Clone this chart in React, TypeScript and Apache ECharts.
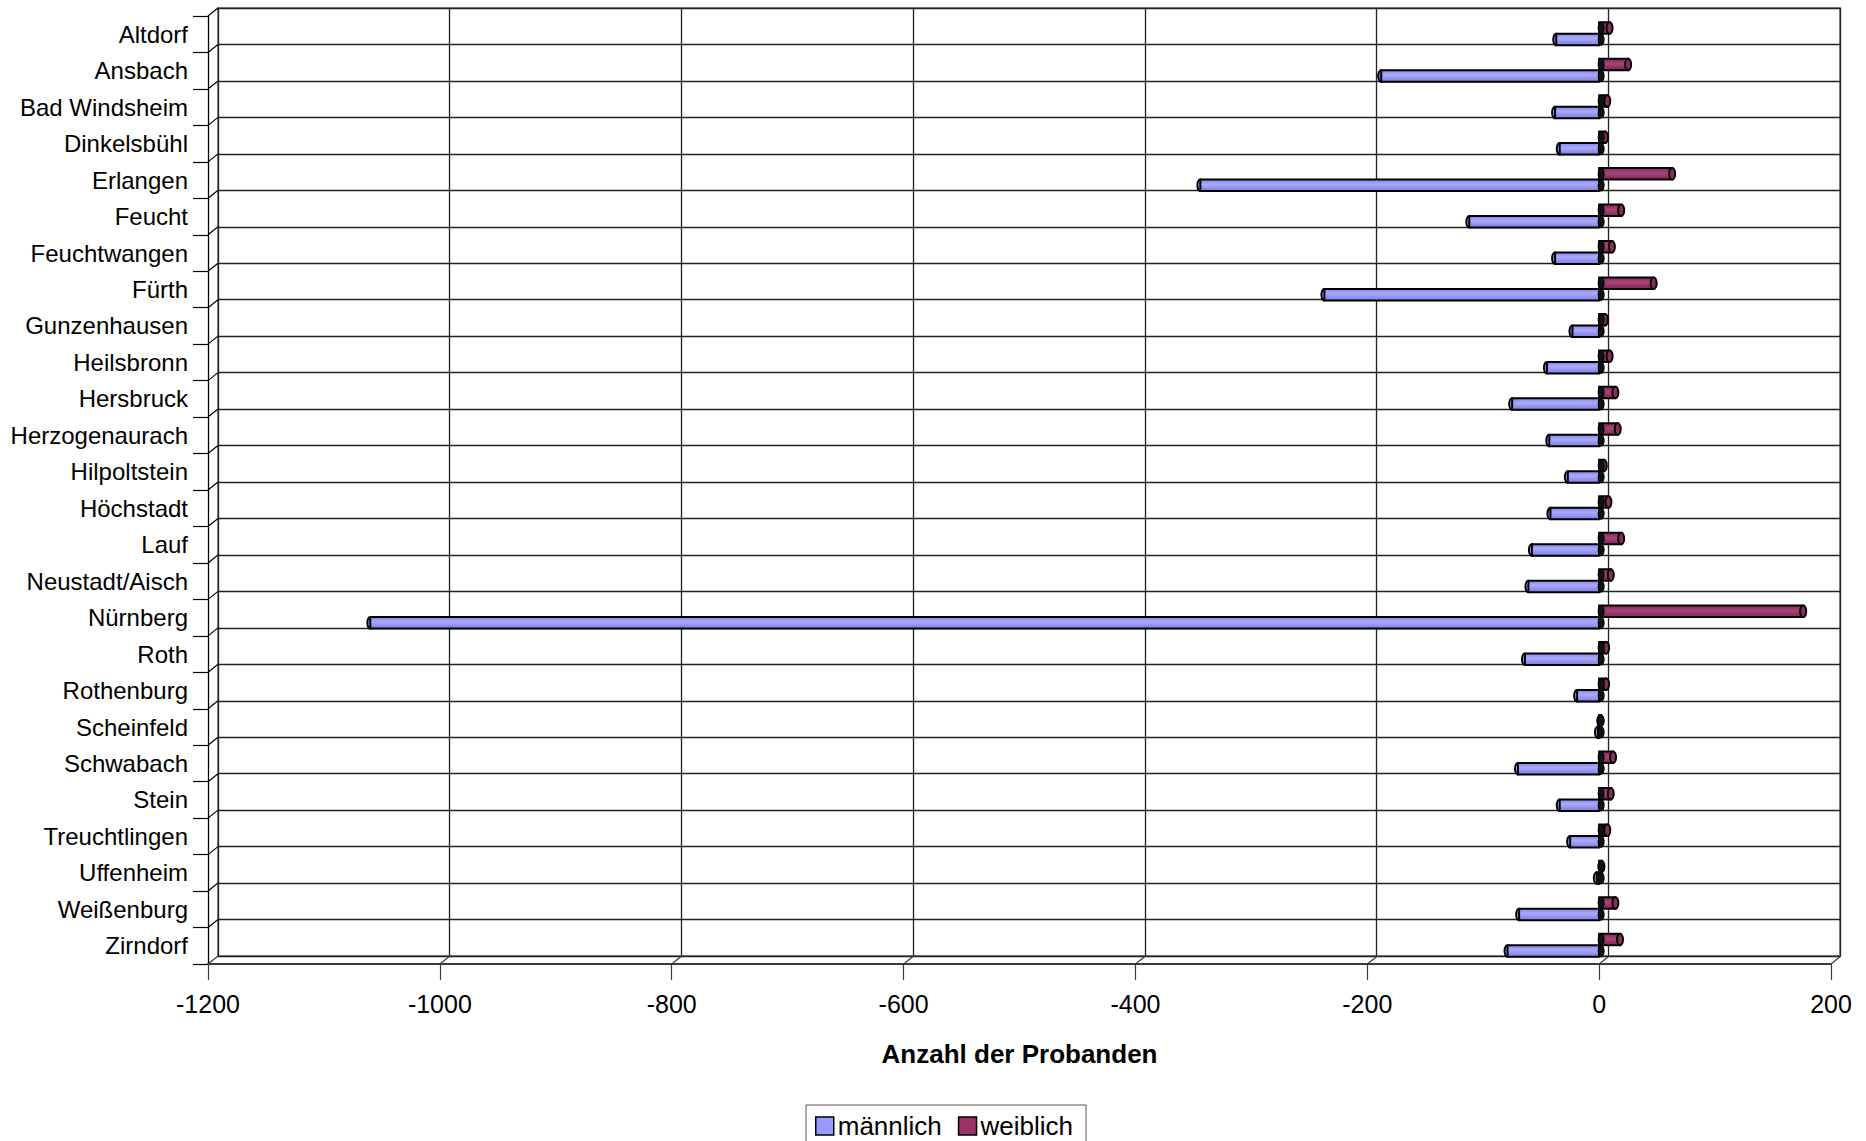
import React, { useEffect, useRef } from 'react';
import * as echarts from 'echarts';

const categories = [
  'Altdorf', 'Ansbach', 'Bad Windsheim', 'Dinkelsbühl', 'Erlangen', 'Feucht',
  'Feuchtwangen', 'Fürth', 'Gunzenhausen', 'Heilsbronn', 'Hersbruck',
  'Herzogenaurach', 'Hilpoltstein', 'Höchstadt', 'Lauf', 'Neustadt/Aisch',
  'Nürnberg', 'Roth', 'Rothenburg', 'Scheinfeld', 'Schwabach', 'Stein',
  'Treuchtlingen', 'Uffenheim', 'Weißenburg', 'Zirndorf',
];
const maleValues = [
  -37, -188, -38, -34, -344, -112, -38, -237, -23, -45, -75, -43, -27, -42,
  -58, -61, -1060, -64, -19, -1, -70, -34, -25, -2, -69, -79,
];
const femaleValues = [
  9, 25, 7, 5, 63, 19, 11, 47, 5, 9, 14, 16, 4, 8, 19, 10, 176, 6, 6, 1, 12, 10,
  7, 2, 14, 18,
];
const xTicks = [-1200, -1000, -800, -600, -400, -200, 0, 200];
const seriesNames = ['männlich', 'weiblich'];
const axisTitle = 'Anzahl der Probanden';

const FONT = '"Liberation Sans", Arial, sans-serif';
const DEPTH = [10, -8];
const MALE = '#9999FF';
const FEMALE = '#993366';
const BAR_H = 11.5;

function cylinderItem(fillStops: any[], capFill: string, top: number, capOnTop: boolean) {
  return (params: any, api: any) => {
    const v = api.value(0);
    const i = api.value(1);
    const p0 = api.coord([0, i]);
    const p1 = api.coord([v, i]);
    const yTop = p0[1] + top;
    const xa = Math.min(p0[0], p1[0]);
    const xb = Math.max(p0[0], p1[0]);
    const fill = new echarts.graphic.LinearGradient(0, 0, 0, 1, fillStops);
    const body = {
      type: 'rect',
      shape: { x: xa, y: yTop, width: xb - xa, height: BAR_H },
      style: { fill, stroke: '#000', lineWidth: 2 },
    };
    const cap = {
      type: 'ellipse',
      shape: { cx: p1[0], cy: yTop + BAR_H / 2, rx: 3, ry: BAR_H / 2 },
      style: { fill: capFill, stroke: '#000', lineWidth: 2 },
    };
    const base = {
      type: 'ellipse',
      shape: { cx: p0[0] + 2, cy: yTop + BAR_H / 2, rx: 3, ry: BAR_H / 2 },
      style: { fill: '#111', stroke: '#000', lineWidth: 1 },
    };
    return {
      type: 'group',
      children: capOnTop ? [body, cap, base] : [cap, body, base],
    };
  };
}

export default function App() {
  const ref = useRef<HTMLDivElement>(null);
  useEffect(() => {
    if (!ref.current) return;
    const chart = echarts.init(ref.current, null, { renderer: 'svg' });
    const xMin = xTicks[0];
    const xMax = xTicks[xTicks.length - 1];
    const step = xTicks[1] - xTicks[0];
    const option: any = {
      animation: false,
      backgroundColor: '#ffffff',
      textStyle: { fontFamily: FONT },
      grid: [
        { left: 208, top: 16, width: 1623, height: 948, containLabel: false },
        {
          left: 218, top: 8, width: 1622, height: 948, show: true,
          borderColor: '#8c8c8c', borderWidth: 2, backgroundColor: 'transparent',
        },
      ],
      xAxis: [
        {
          gridIndex: 0, type: 'value', min: xMin, max: xMax, interval: step,
          axisLine: { show: true, onZero: false, lineStyle: { color: '#3a3a3a', width: 2 } },
          axisTick: { show: true, length: 16, lineStyle: { color: '#3a3a3a', width: 1.2 } },
          axisLabel: {
            fontSize: 25, color: '#000', margin: 27, fontFamily: FONT,
            formatter: (v: number) => String(v),
          },
          splitLine: { show: false },
          name: axisTitle, nameLocation: 'middle', nameGap: 77,
          nameTextStyle: { fontSize: 26, fontWeight: 'bold', color: '#000', fontFamily: FONT },
        },
        {
          gridIndex: 1, type: 'value', min: xMin, max: xMax, interval: step,
          axisLine: { show: false }, axisTick: { show: false }, axisLabel: { show: false },
          splitLine: { show: true, lineStyle: { color: '#222', width: 1.3 } },
        },
      ],
      yAxis: [
        {
          gridIndex: 0, type: 'category', data: categories, inverse: true,
          axisLine: { show: true, onZero: false, lineStyle: { color: '#000', width: 1.3 } },
          axisTick: { show: true, length: 15, lineStyle: { color: '#000', width: 1.2 } },
          axisLabel: { fontSize: 24, color: '#000', margin: 20, fontFamily: FONT },
          splitLine: { show: false },
        },
        {
          gridIndex: 1, type: 'category', data: categories, inverse: true,
          axisLine: { show: false }, axisTick: { show: false }, axisLabel: { show: false },
          splitLine: { show: true, lineStyle: { color: '#222', width: 1.3 } },
        },
      ],
      legend: {
        show: true, left: 806, top: 1105, orient: 'horizontal',
        data: [
          { name: seriesNames[0], itemStyle: { color: MALE, borderColor: '#000', borderWidth: 1.5 } },
          { name: seriesNames[1], itemStyle: { color: FEMALE, borderColor: '#000', borderWidth: 1.5 } },
        ],
        itemWidth: 18, itemHeight: 18, itemGap: 16,
        padding: [8, 13, 8, 9],
        borderColor: '#555', borderWidth: 1,
        textStyle: { fontSize: 26, color: '#000', fontFamily: FONT, padding: [0, 0, 0, -1] },
        icon: 'rect',
      },
      series: [
        {
          name: seriesNames[1], type: 'custom', xAxisIndex: 0, yAxisIndex: 0, z: 3,
          itemStyle: { color: FEMALE },
          data: femaleValues.map((v, i) => [v, i]),
          encode: { x: 0, y: 1 },
          renderItem: cylinderItem(
            [
              { offset: 0, color: '#86285a' },
              { offset: 0.45, color: '#a8457a' },
              { offset: 1, color: '#7a2350' },
            ],
            '#8a2c5c', -12, true,
          ),
        },
        {
          name: seriesNames[0], type: 'custom', xAxisIndex: 0, yAxisIndex: 0, z: 4,
          itemStyle: { color: MALE },
          data: maleValues.map((v, i) => [v, i]),
          encode: { x: 0, y: 1 },
          renderItem: cylinderItem(
            [
              { offset: 0, color: '#8585ea' },
              { offset: 0.4, color: '#aaaaff' },
              { offset: 1, color: '#7d7de0' },
            ],
            '#9292f6', -0.5, false,
          ),
        },
        {
          type: 'custom', xAxisIndex: 0, yAxisIndex: 0, silent: true, clip: false, z: 2,
          data: categories.map((_, i) => [xMin, i]),
          encode: { x: 0, y: 1 },
          renderItem: (params: any, api: any) => {
            const p = api.coord([api.value(0), api.value(1)]);
            const h = api.size([0, 1])[1];
            const y = p[1] - h / 2;
            return {
              type: 'line',
              shape: { x1: p[0], y1: y, x2: p[0] + DEPTH[0], y2: y + DEPTH[1] },
              style: { stroke: '#000', lineWidth: 1.2 },
            };
          },
        },
        {
          type: 'custom', xAxisIndex: 0, yAxisIndex: 0, silent: true, clip: false, z: 2,
          data: xTicks.map((v) => [v, categories.length - 1]),
          encode: { x: 0, y: 1 },
          renderItem: (params: any, api: any) => {
            const p = api.coord([api.value(0), api.value(1)]);
            const h = api.size([0, 1])[1];
            const y = p[1] + h / 2;
            return {
              type: 'line',
              shape: { x1: p[0], y1: y, x2: p[0] + DEPTH[0], y2: y + DEPTH[1] },
              style: { stroke: '#3a3a3a', lineWidth: 1.2 },
            };
          },
        },
      ],
    };
    chart.setOption(option);
    return () => chart.dispose();
  }, []);
  return (
    <div
      ref={ref}
      style={{ position: 'absolute', left: 0, top: 0, width: 1866, height: 1141 }}
    />
  );
}
